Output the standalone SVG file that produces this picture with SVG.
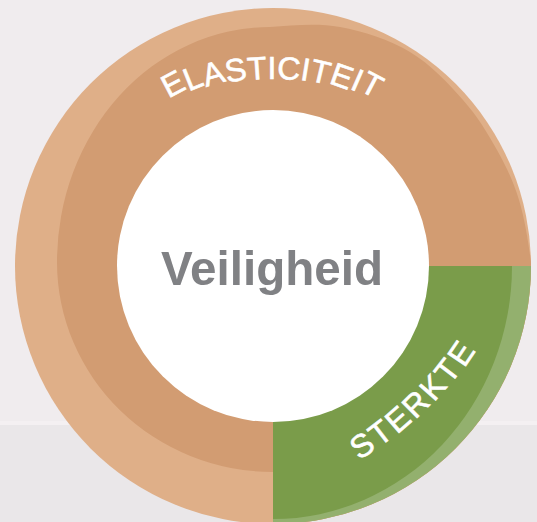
<svg xmlns="http://www.w3.org/2000/svg" width="537" height="522" viewBox="0 0 537 522">
  <style>
    .lbl { font-family: "Liberation Sans", Arial, sans-serif; font-size: 32px; fill: #FFFFFF; stroke: #FFFFFF; stroke-width: 0.6px; }
    .center { font-family: "Liberation Sans", Arial, sans-serif; font-weight: bold; font-size: 49px; fill: #808184; }
  </style>
  <defs>
    <clipPath id="outerClip">
      <circle cx="273" cy="266" r="258"/>
    </clipPath>
  </defs>
  <g id="background">
    <rect x="0" y="0" width="537" height="522" fill="#F0ECEE"/>
    <rect x="0" y="424" width="537" height="98" fill="#EAE7E9"/>
    <rect x="0" y="421" width="537" height="4" fill="#F4F0F2"/>
  </g>
  <g id="elasticiteit">
    <circle cx="273" cy="266" r="258" fill="#DFAF88"/>
    <path clip-path="url(#outerClip)" fill="#D29C72" d="M273,472 A216,210 0 0 1 57,262 A213,235 0 0 1 270,27 C293.3,25.5 316.7,23 340,27 C363.3,31 389.5,39.8 410,52 C430.5,64.2 448.5,83.7 463,100 C477.5,116.3 487.7,133.3 497,150 C506.3,166.7 513.3,181.3 519,200 C524.7,218.7 528.3,242 531,262 L540,262 L540,530 L273,530 Z"/>
    <text class="lbl" x="168.6 188.8 206.0 226.9 248.0 267.6 276.5 299.6 308.6 328.2 349.0 358.2" y="98.5 91.6 87.0 82.8 80.0 79.0 78.4 79.8 80.3 82.9 88.4 89.7" rotate="-27.7 -22 -16.3 -10.1 -4.1 0 4.7 9.3 13.4 19.4 23.8 27.9">ELASTICITEIT</text>
  </g>
  <g id="sterkte">
    <path fill="#93B06E" d="M273,266 H531 A258,258 0 0 1 273,524 Z"/>
    <path fill="#7A9C4A" d="M273,266 H512 A239,253 0 0 1 273,519 Z"/>
    <text class="lbl" x="359.3 379.2 396.9 415.2 433.9 450.0 464.3" y="460.5 447.6 434.8 419.9 402.5 385.3 368.6" rotate="-34 -37.6 -41.1 -45 -48.9 -52.4 -56">STERKTE</text>
  </g>
  <g id="veiligheid">
    <circle cx="273" cy="266" r="156" fill="#FFFFFF"/>
    <text class="center" x="272" y="285" text-anchor="middle" textLength="222" lengthAdjust="spacingAndGlyphs">Veiligheid</text>
  </g>
  <g id="connectors"/>
</svg>
